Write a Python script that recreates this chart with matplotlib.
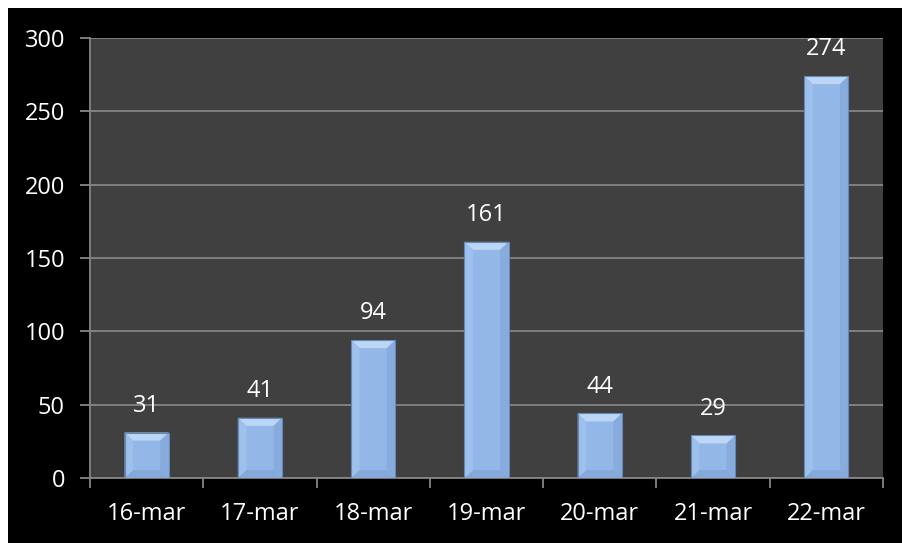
import matplotlib
matplotlib.use('Agg')
import matplotlib.pyplot as plt
from matplotlib.patches import Polygon, Rectangle
import numpy as np

days = ['16-mar', '17-mar', '18-mar', '19-mar', '20-mar', '21-mar', '22-mar']
counts = [31, 41, 94, 161, 44, 29, 274]
y_ticks = [0, 50, 100, 150, 200, 250, 300]

plt.rcParams['font.family'] = ['Open Sans', 'DejaVu Sans']

bar_face = '#93b8e8'
bar_edge = '#6488b8'
plot_bg = '#404040'
grid_col = '#858585'

fig = plt.figure(figsize=(9.03, 5.43), dpi=100, facecolor='black')
# thin white margin along the top and left edges
fig.patches.append(Rectangle((0, 1 - 8 / 543), 1, 8 / 543, transform=fig.transFigure,
                             facecolor='white', edgecolor='none'))
fig.patches.append(Rectangle((0, 0), 8 / 903, 1, transform=fig.transFigure,
                             facecolor='white', edgecolor='none'))
ax = fig.add_axes([90 / 903, 1 - 478 / 543, (883 - 90) / 903, (478 - 38) / 543])
ax.set_facecolor(plot_bg)

x = np.arange(len(days))
width = 0.39
ax.set_xlim(-0.5, len(days) - 0.5)
ax.set_ylim(0, 300)

# bevel size in data units (about 8 px each way)
bx = 0.075
by = 300 * 8 / 440


def bevel(l, r, v, b, top_col, bot_col, left_col, right_col):
    ax.add_patch(Polygon([(l, v), (r, v), (r - bx, v - b), (l + bx, v - b)],
                         closed=True, facecolor=top_col, edgecolor='none', zorder=4))
    ax.add_patch(Polygon([(l, 0), (r, 0), (r - bx, b), (l + bx, b)],
                         closed=True, facecolor=bot_col, edgecolor='none', zorder=4))
    ax.add_patch(Polygon([(l, 0), (l + bx, b), (l + bx, v - b), (l, v)],
                         closed=True, facecolor=left_col, edgecolor='none', zorder=4))
    ax.add_patch(Polygon([(r, 0), (r - bx, b), (r - bx, v - b), (r, v)],
                         closed=True, facecolor=right_col, edgecolor='none', zorder=4))


for xi, v in zip(x, counts):
    l, r = xi - width / 2, xi + width / 2
    ax.add_patch(Rectangle((l, 0), width, v, facecolor=bar_face, edgecolor='none', zorder=3))
    b = min(by, v / 2)
    bevel(l, r, v, b, '#bcd6f6', '#84a9da', '#9dc0ec', '#86abdc')
    ax.add_patch(Rectangle((l, 0), width, v, facecolor='none', edgecolor=bar_edge,
                           linewidth=0.8, zorder=5))
    ax.text(xi, v + 10, str(v), ha='center', va='bottom', color='white', fontsize=17, zorder=6)

ax.set_yticks(y_ticks)
ax.set_yticklabels([str(t) for t in y_ticks])
ax.yaxis.grid(True, color=grid_col, linewidth=1.3)
ax.set_axisbelow(True)

ax.set_xticks(np.arange(len(days) + 1) - 0.5)
ax.set_xticklabels([])
ax.set_xticks(x, minor=True)
ax.set_xticklabels(days, minor=True)
ax.tick_params(axis='x', which='minor', length=0, pad=17, labelcolor='white', labelsize=17)
ax.tick_params(axis='x', which='major', length=7, width=1.3, color=grid_col, direction='out')
ax.tick_params(axis='y', length=7, width=1.3, color=grid_col, direction='out',
               labelcolor='white', labelsize=17, pad=11)

for side in ['top', 'right']:
    ax.spines[side].set_visible(False)
for side in ['left', 'bottom']:
    ax.spines[side].set_color(grid_col)
    ax.spines[side].set_linewidth(1.3)

fig.savefig('out.png', dpi=100, facecolor='black')
